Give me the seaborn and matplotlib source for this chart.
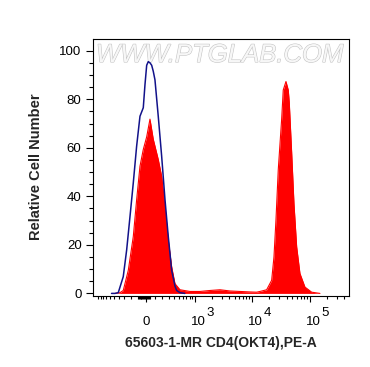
import numpy as np
import matplotlib
matplotlib.use("Agg")
import matplotlib.pyplot as plt
import matplotlib.patheffects as pe
from matplotlib.ticker import FixedLocator, FixedFormatter, MultipleLocator
from matplotlib.transforms import ScaledTranslation, blended_transform_factory
import seaborn as sns

# ---------------- data (fluorescence intensity, relative cell number) ----------------
stained_x = [-478, -374, -315, -234, -163, -119, -77.5, -37.8, 2.4, 41.4, 81.2, 144,
             190, 239, 291, 350, 414, 524, 814, 1235, 1856, 2777, 4148, 6195, 9240,
             12078, 13780, 18010, 21995, 24119, 26130, 28650, 32810, 34970, 38980,
             42720, 44470, 48960, 53680, 59790, 68200, 83290, 108870, 151700]
stained_y = [0, 0.3, 1.2, 9.5, 23.4, 38.6, 52.4, 59.3, 64.5, 71.8, 63.5, 55.2,
             48.3, 35.8, 22.0, 10.9, 4.0, 1.5, 0.8, 0.8, 1.2, 1.5, 1.0, 0.8, 0.6,
             0.5, 0.8, 1.5, 5.4, 15.0, 30.3, 51.0, 71.8, 83.8, 87.3,
             83.8, 78.7, 58.0, 37.0, 19.2, 8.2, 2.6, 0.5, 0]

control_x = [-560, -478, -408, -315, -259, -209, -163, -119, -77.5, -37.8, -17.7,
             2.4, 21.2, 41.4, 61.8, 81.2, 102, 144, 190, 239, 291, 350, 414, 449,
             524, 650]
control_y = [0, 0, 0.3, 6.9, 17.9, 31.6, 45.5, 60.7, 73.0, 76.5, 86.0,
             94.0, 95.5, 95.0, 94.0, 91.5, 88.0, 73.0, 56.6, 38.6, 23.4, 9.5, 3.0, 1.2,
             0.3, 0]

major_tick_values = [0, 1e3, 1e4, 1e5]
major_tick_labels = ["0", "10", "10", "10"]
major_tick_exponents = ["", "3", "4", "5"]
minor_tick_values = (list(range(-1000, 0, 100)) + list(range(-90, 50, 10)) +
                     list(range(100, 1000, 100)) + list(range(2000, 10000, 1000)) +
                     list(range(20000, 100000, 10000)) + [200000, 300000, 400000])
y_ticks = [0, 20, 40, 60, 80, 100]

x_label = "65603-1-MR CD4(OKT4),PE-A"
y_label = "Relative Cell Number"
watermark = "WWW.PTGLAB.COM"

# ---------------- style ----------------
sns.set_theme(style="ticks")
plt.rcParams['font.family'] = ['Liberation Sans', 'DejaVu Sans']

fig = plt.figure(figsize=(3.7, 3.67), dpi=100)
fig.patch.set_facecolor('white')
ax = fig.add_axes([0.2505, 0.1926, 0.6935, 0.7003])
ax.set_facecolor('white')

# logicle-like (arcsinh) axis
B = 147.5
def fwd(x):
    return np.arcsinh(np.asarray(x, dtype=float) / (2 * B)) / np.log(10)
def inv(u):
    return 2 * B * np.sinh(np.asarray(u, dtype=float) * np.log(10))
ax.set_xscale('function', functions=(fwd, inv))

red = '#ff0000'
navy = '#12128a'

ax.fill_between(stained_x, 0, stained_y, color=red, lw=0, zorder=2)
sns.lineplot(x=stained_x, y=stained_y, ax=ax, color=red, lw=0.8, zorder=3)
sns.lineplot(x=control_x, y=control_y, ax=ax, color=navy, lw=1.1, zorder=4)

ax.set_xlim(-1250, 490000)
ax.set_ylim(-1.2, 104.7)

ax.xaxis.set_major_locator(FixedLocator(major_tick_values))
ax.xaxis.set_major_formatter(FixedFormatter(major_tick_labels))
ax.xaxis.set_minor_locator(FixedLocator(minor_tick_values))
ax.set_yticks(y_ticks)
ax.yaxis.set_minor_locator(MultipleLocator(5))

ax.tick_params(axis='y', which='major', direction='out', length=5, width=0.8,
               labelsize=9.5, pad=3, color='black', labelcolor='black')
ax.tick_params(axis='y', which='minor', direction='out', length=2.8, width=0.8,
               color='black')
ax.tick_params(axis='x', which='major', direction='out', length=4.3, width=0.8,
               labelsize=9.5, pad=16, color='black', labelcolor='black')
ax.tick_params(axis='x', which='minor', direction='out', length=2.3, width=0.8,
               color='black')

for s in ax.spines.values():
    s.set_visible(True)
    s.set_color('black')
    s.set_linewidth(0.8)

shift = ScaledTranslation(3.5 / 100, 0, fig.dpi_scale_trans)
for i, lbl in enumerate(ax.get_xticklabels()):
    lbl.set_va('baseline')
    if i > 0:
        lbl.set_transform(lbl.get_transform() + shift)

# exponents of the decade labels
blend = blended_transform_factory(ax.transData, ax.transAxes)
exp_off = ScaledTranslation(11.5 / 100, -19.7 / 100, fig.dpi_scale_trans)
for val, ex in zip(major_tick_values, major_tick_exponents):
    if ex:
        ax.text(val, 0, ex, transform=blend + exp_off, ha='left', va='baseline',
                fontsize=9.5, color='black', clip_on=False)

ax.set_xlabel(x_label, fontsize=10, fontweight='bold')
ax.set_ylabel(y_label, fontsize=10.5, fontweight='bold')
ax.xaxis.set_label_coords(0.5, -0.1525)
ax.yaxis.set_label_coords(-0.195, 0.505)

ax.text(0.013, 0.9117, watermark, transform=ax.transAxes, ha='left', va='baseline',
        fontsize=18.5, fontstyle='italic', color='#f7f7f7', zorder=1,
        path_effects=[pe.withStroke(linewidth=0.8, foreground='#c4c4c4')])

fig.savefig('out.png', dpi=100, facecolor='white')
